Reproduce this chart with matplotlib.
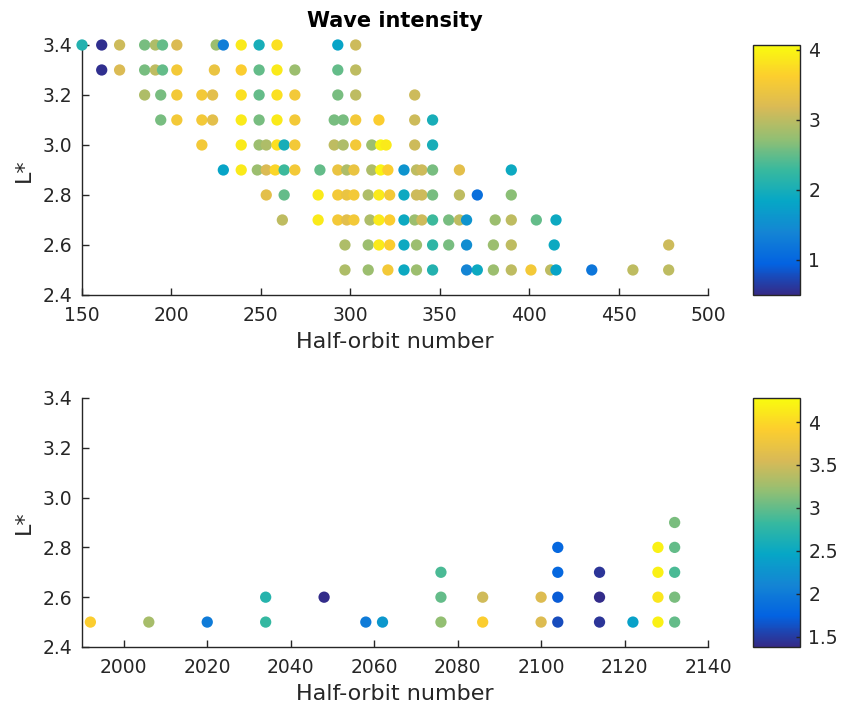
import numpy as np
import matplotlib
matplotlib.use("Agg")
import matplotlib.pyplot as plt
from matplotlib.colors import LinearSegmentedColormap

# approx. MATLAB parula colormap
parula = LinearSegmentedColormap.from_list(
    "parula", ["#352a87", "#0363e1", "#1485d4", "#06a7c6", "#38b99e",
               "#92bf73", "#d9ba56", "#fcce2e", "#f9fb0e"])

# ---- top panel: half-orbit number, L*, wave intensity (row by row) ----
top_orbit = [
    150, 161, 171, 185, 191, 195, 203, 225, 229, 239, 249, 259, 293, 303,       # L*=3.4
    161, 171, 185, 191, 195, 203, 224, 239, 249, 259, 269, 293, 303,            # 3.3
    185, 194, 203, 217, 223, 239, 249, 259, 269, 293, 303, 336,                 # 3.2
    194, 203, 217, 223, 239, 249, 259, 269, 291, 296, 303, 316, 336, 346,       # 3.1
    217, 239, 249, 253, 259, 263, 269, 291, 296, 303, 312, 317, 320, 336, 346,  # 3.0
    229, 239, 248, 253, 258, 263, 269, 283, 293, 298, 302, 312, 317, 321, 330,
    337, 340, 346, 361, 390,                                                    # 2.9
    253, 263, 282, 293, 298, 302, 310, 316, 322, 330, 337, 340, 346, 361, 371,
    390,                                                                        # 2.8
    262, 282, 293, 298, 302, 311, 316, 322, 330, 336, 340, 346, 355, 361, 365,
    381, 390, 404, 415,                                                         # 2.7
    297, 310, 316, 322, 330, 337, 346, 355, 365, 380, 390, 414, 478,            # 2.6
    297, 310, 321, 330, 337, 346, 365, 371, 380, 390, 401, 412, 415, 435, 458,
    478,                                                                        # 2.5
]
top_lstar = ([3.4] * 14 + [3.3] * 13 + [3.2] * 12 + [3.1] * 14 + [3.0] * 15
             + [2.9] * 20 + [2.8] * 16 + [2.7] * 19 + [2.6] * 13 + [2.5] * 16)
top_intensity = [
    2.1, 0.55, 3.1, 2.6, 2.9, 2.5, 3.2, 2.8, 1.3, 3.9, 2.0, 3.8, 1.8, 3.1,
    0.55, 3.2, 2.6, 3.0, 2.5, 3.5, 3.4, 3.6, 2.5, 3.9, 2.8, 2.5, 3.0,
    2.9, 2.6, 3.5, 3.5, 3.3, 3.8, 2.5, 3.8, 3.5, 2.6, 3.0, 3.1,
    2.6, 3.5, 3.5, 3.3, 3.9, 2.6, 3.9, 3.5, 2.6, 2.6, 3.5, 3.6, 3.1, 2.0,
    3.5, 3.9, 2.8, 2.9, 3.8, 2.0, 3.5, 3.0, 2.9, 3.5, 2.8, 4.0, 3.9, 3.1, 2.0,
    1.8, 3.9, 2.8, 3.2, 3.7, 2.3, 3.5, 2.5, 3.4, 2.9, 3.4, 2.9, 4.0, 3.6, 1.6,
    3.0, 3.1, 2.6, 3.3, 1.9,
    3.3, 2.5, 3.9, 3.5, 3.4, 3.5, 2.9, 3.9, 3.5, 1.9, 3.1, 3.1, 2.6, 3.0, 1.1,
    2.7,
    3.0, 3.9, 3.5, 3.3, 3.5, 2.9, 3.9, 3.6, 1.9, 2.8, 3.1, 2.3, 2.6, 3.0, 1.6,
    2.8, 3.0, 2.5, 1.9,
    2.9, 2.8, 3.9, 3.6, 1.9, 2.8, 2.2, 2.6, 1.5, 2.8, 3.0, 1.9, 3.1,
    2.9, 2.8, 3.5, 1.9, 2.8, 2.1, 1.4, 1.9, 2.8, 3.0, 3.5, 3.0, 1.8, 1.2, 3.0,
    3.0,
]

# ---- bottom panel ----
bot_orbit = [1992, 2006, 2020, 2034, 2058, 2062, 2076, 2086, 2100, 2104, 2114, 2122, 2128, 2132,
             2034, 2048, 2076, 2086, 2100, 2104, 2114, 2128, 2132,
             2076, 2104, 2114, 2128, 2132,
             2104, 2128, 2132,
             2132]
bot_lstar = [2.5] * 14 + [2.6] * 9 + [2.7] * 5 + [2.8] * 3 + [2.9]
bot_intensity = [3.9, 3.3, 2.0, 2.8, 2.0, 2.3, 3.2, 3.9, 3.6, 1.6, 1.45, 2.4, 4.2, 3.0,
                 2.7, 1.4, 3.0, 3.5, 3.6, 1.7, 1.4, 4.1, 3.1,
                 2.9, 1.8, 1.45, 4.2, 2.9,
                 1.8, 4.2, 3.0,
                 3.1]

plt.rcParams["font.family"] = "DejaVu Sans"
dark = "#262626"

fig = plt.figure(figsize=(8.44, 7.13), dpi=100)
ax1 = fig.add_axes([0.0972, 0.5863, 0.7417, 0.3506])
cax1 = fig.add_axes([0.892, 0.5863, 0.0557, 0.3506])
ax2 = fig.add_axes([0.0972, 0.0926, 0.7417, 0.3492])
cax2 = fig.add_axes([0.892, 0.0926, 0.0557, 0.3492])

sc1 = ax1.scatter(top_orbit, top_lstar, c=top_intensity, cmap=parula,
                  vmin=0.5, vmax=4.07, s=66, linewidths=0, clip_on=False, zorder=3)
sc2 = ax2.scatter(bot_orbit, bot_lstar, c=bot_intensity, cmap=parula,
                  vmin=1.38, vmax=4.28, s=66, linewidths=0, clip_on=False, zorder=3)

ax1.set_xlim(150, 500)
ax1.set_xticks(np.arange(150, 501, 50))
ax2.set_xlim(1990, 2140)
ax2.set_xticks(np.arange(2000, 2141, 20))

for ax in (ax1, ax2):
    ax.set_ylim(2.4, 3.4)
    ax.set_yticks([2.4, 2.6, 2.8, 3.0, 3.2, 3.4])
    ax.set_yticklabels(["2.4", "2.6", "2.8", "3.0", "3.2", "3.4"])
    ax.spines["top"].set_visible(False)
    ax.spines["right"].set_visible(False)
    for sp in ("left", "bottom"):
        ax.spines[sp].set_color(dark)
        ax.spines[sp].set_linewidth(1.0)
    ax.tick_params(direction="in", length=5, width=1, colors=dark,
                   labelsize=13.5, labelcolor=dark)
    ax.tick_params(axis="x", pad=8)
    ax.tick_params(axis="y", pad=7)
    ax.set_xlabel("Half-orbit number", fontsize=16, color=dark, labelpad=5)
    ax.set_ylabel("L*", fontsize=16, color=dark, labelpad=6)

ax1.set_title("Wave intensity", fontsize=15, fontweight="bold", color="black", pad=13)

cb1 = fig.colorbar(sc1, cax=cax1, ticks=[1, 2, 3, 4])
cb2 = fig.colorbar(sc2, cax=cax2, ticks=[1.5, 2, 2.5, 3, 3.5, 4])
cb2.ax.set_yticklabels(["1.5", "2", "2.5", "3", "3.5", "4"])
for cb in (cb1, cb2):
    cb.outline.set_edgecolor(dark)
    cb.outline.set_linewidth(1.0)
    cb.ax.tick_params(direction="in", length=3, width=1, colors=dark,
                      labelsize=13.5, labelcolor=dark, pad=6)

fig.savefig("out.png", dpi=100, facecolor="white")
